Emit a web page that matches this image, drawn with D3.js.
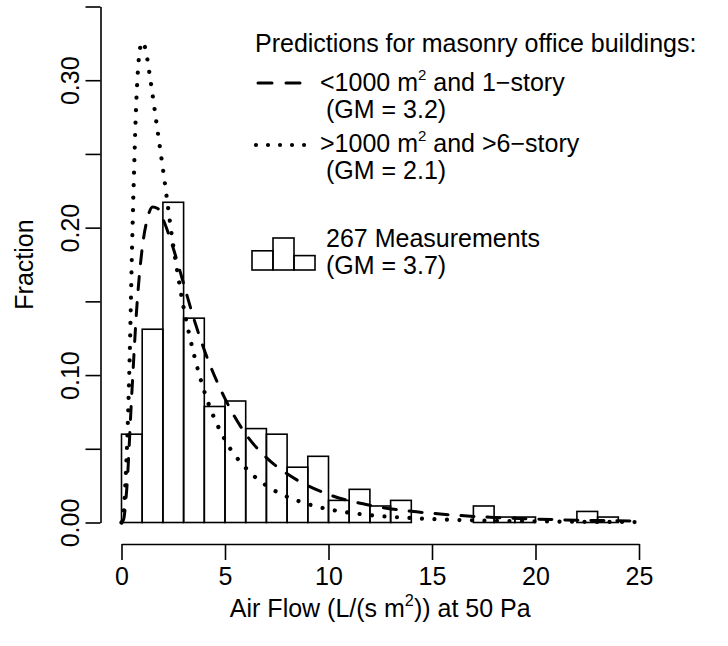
<!DOCTYPE html>
<html>
<head>
<meta charset="utf-8">
<script src="https://cdn.jsdelivr.net/npm/d3@7/dist/d3.min.js"></script>
<style>
  html, body { margin: 0; padding: 0; background: #fff; }
  svg { display: block; }
  text { font-family: "Liberation Sans", Arial, Helvetica, sans-serif; fill: #000; }
</style>
</head>
<body>
<svg id="chart" width="728" height="646"></svg>
<script>
// ---------------- data ----------------
const binStarts = [0,1,2,3,4,5,6,7,8,9,10,11,12,13,14,15,16,17,18,19,20,21,22,23,24];
const binFractions = [0.0599,0.1311,0.2172,0.1386,0.0787,0.0824,0.0637,0.0599,0.0375,0.0449,
                      0.0150,0.0225,0.0112,0.0150,0,0,0,0.0112,0.0037,0.0037,0,0,0.0075,0.0037,0];

const dashX = [0,0.1,0.25,0.5,0.75,1.0,1.25,1.5,1.75,2.0,2.5,3.0,3.5,4.0,5,6,7,8,9,10,12,14,16,18,20,22,25];
const dashY = [0,0.002,0.022,0.088,0.148,0.186,0.206,0.214,0.213,0.206,0.186,0.162,0.138,0.117,0.084,0.060,0.044,0.033,0.025,0.019,0.0117,0.0076,0.0051,0.0034,0.0023,0.0016,0.0010];

const dotX = [0,0.1,0.2,0.3,0.4,0.5,0.6,0.7,0.8,0.9,1.0,1.1,1.2,1.4,1.7,2.0,2.5,3.0,3.5,4.0,5,6,7,8,9,10,12,14,16,18,20,22,25];
const dotY = [0,0.006,0.03,0.065,0.115,0.18,0.235,0.28,0.308,0.322,0.326,0.324,0.318,0.300,0.270,0.240,0.188,0.146,0.114,0.089,0.056,0.037,0.025,0.0175,0.0125,0.009,0.005,0.003,0.0018,0.0012,0.0008,0.0005,0.0003];

const xTicks = [0,5,10,15,20,25];
const yTicks = [0,0.05,0.10,0.15,0.20,0.25,0.30,0.35];
const yTickLabels = ["0.00","","0.10","","0.20","","0.30",""];

const xTitle = ["Air Flow (L/(s m", "2", ")) at 50 Pa"];
const yTitle = "Fraction";
const legendTitle = "Predictions for masonry office buildings:";
const legendDash = ["<1000 m", "2", " and 1\u2212story", "(GM = 3.2)"];
const legendDot = [">1000 m", "2", " and >6\u2212story", "(GM = 2.1)"];
const legendHist = ["267 Measurements", "(GM = 3.7)"];
const legendIcon = [0.6, 1.0, 0.45]; // relative heights of the small histogram icon

// ---------------- layout ----------------
const svg = d3.select("#chart");
const FS = 25;
const x = d3.scaleLinear().domain([0, 25]).range([121.5, 639]);
const y = d3.scaleLinear().domain([0, 0.35]).range([522.5, 6.5]);
const yAxisX = 100.5, xAxisY = 544;

// histogram bars
svg.append("g").selectAll("rect").data(binStarts).join("rect")
  .attr("x", d => x(d))
  .attr("y", (d, i) => y(binFractions[i]))
  .attr("width", d => x(d + 1) - x(d))
  .attr("height", (d, i) => y(0) - y(binFractions[i]))
  .attr("fill", "none").attr("stroke", "#000").attr("stroke-width", 1.6);

// curves
const line = d3.line().x(d => x(d[0])).y(d => y(d[1])).curve(d3.curveMonotoneX);
svg.append("path").datum(dashX.map((v, i) => [v, dashY[i]]))
  .attr("d", line).attr("fill", "none").attr("stroke", "#000")
  .attr("stroke-width", 3).attr("stroke-dasharray", "13 13").attr("stroke-linecap", "round");
svg.append("path").datum(dotX.map((v, i) => [v, dotY[i]]))
  .attr("d", line).attr("fill", "none").attr("stroke", "#000")
  .attr("stroke-width", 4.2).attr("stroke-dasharray", "0.01 12.5").attr("stroke-linecap", "round");

// y axis
const yAxis = d3.axisLeft(y).tickValues(yTicks).tickSize(15).tickSizeOuter(0)
  .tickFormat((d, i) => yTickLabels[i]);
const gy = svg.append("g").attr("transform", `translate(${yAxisX},0)`).call(yAxis);
gy.select(".domain").attr("stroke-width", 1.6);
gy.selectAll(".tick line").attr("stroke-width", 1.6);
gy.selectAll(".tick text")
  .attr("font-size", FS).attr("font-family", null)
  .attr("x", null).attr("dy", null)
  .attr("text-anchor", "middle")
  .attr("transform", "translate(-22,0) rotate(-90)");

// x axis
const xAxis = d3.axisBottom(x).tickValues(xTicks).tickSize(16).tickSizeOuter(0).tickFormat(d3.format("d"));
const gx = svg.append("g").attr("transform", `translate(0,${xAxisY})`).call(xAxis);
gx.select(".domain").attr("stroke-width", 1.6);
gx.selectAll(".tick line").attr("stroke-width", 1.6);
gx.selectAll(".tick text").attr("font-size", FS).attr("font-family", null)
  .attr("y", 41).attr("dy", null);

// axis titles
const xt = svg.append("text").attr("x", x(12.5)).attr("y", 617).attr("text-anchor", "middle").attr("font-size", FS);
xt.append("tspan").text(xTitle[0]);
xt.append("tspan").text(xTitle[1]).attr("font-size", FS * 0.65).attr("dy", -11);
xt.append("tspan").text(xTitle[2]).attr("dy", 11);

svg.append("text").attr("transform", `translate(33,${y(0.175)}) rotate(-90)`)
  .attr("text-anchor", "middle").attr("font-size", FS).text(yTitle);

// legend
svg.append("text").attr("x", 255).attr("y", 52).attr("font-size", FS).text(legendTitle);

function supText(xp, yp, parts) {
  const t = svg.append("text").attr("x", xp).attr("y", yp).attr("font-size", FS);
  t.append("tspan").text(parts[0]);
  t.append("tspan").text(parts[1]).attr("font-size", FS * 0.6).attr("dy", -11);
  t.append("tspan").text(parts[2]).attr("dy", 11);
}
svg.append("line").attr("x1", 258).attr("x2", 302).attr("y1", 83).attr("y2", 83)
  .attr("stroke", "#000").attr("stroke-width", 3).attr("stroke-dasharray", "14 14").attr("stroke-linecap", "round");
supText(320, 91, legendDash);
svg.append("text").attr("x", 326).attr("y", 118).attr("font-size", FS).text(legendDash[3]);

svg.append("line").attr("x1", 256).attr("x2", 304.5).attr("y1", 145).attr("y2", 145)
  .attr("stroke", "#000").attr("stroke-width", 4.2).attr("stroke-dasharray", "0.01 12").attr("stroke-linecap", "round");
supText(320, 152, legendDot);
svg.append("text").attr("x", 326).attr("y", 179).attr("font-size", FS).text(legendDot[3]);

// histogram icon
const iconX = d3.scaleLinear().domain([0, 3]).range([252, 315]);
const iconY = d3.scaleLinear().domain([0, 1]).range([270, 238]);
svg.append("g").selectAll("rect").data(legendIcon).join("rect")
  .attr("x", (d, i) => iconX(i)).attr("y", d => iconY(d))
  .attr("width", (d, i) => iconX(i + 1) - iconX(i)).attr("height", d => iconY(0) - iconY(d))
  .attr("fill", "none").attr("stroke", "#000").attr("stroke-width", 1.6);
svg.append("text").attr("x", 326).attr("y", 247).attr("font-size", FS).text(legendHist[0]);
svg.append("text").attr("x", 326).attr("y", 274).attr("font-size", FS).text(legendHist[1]);
</script>
</body>
</html>
